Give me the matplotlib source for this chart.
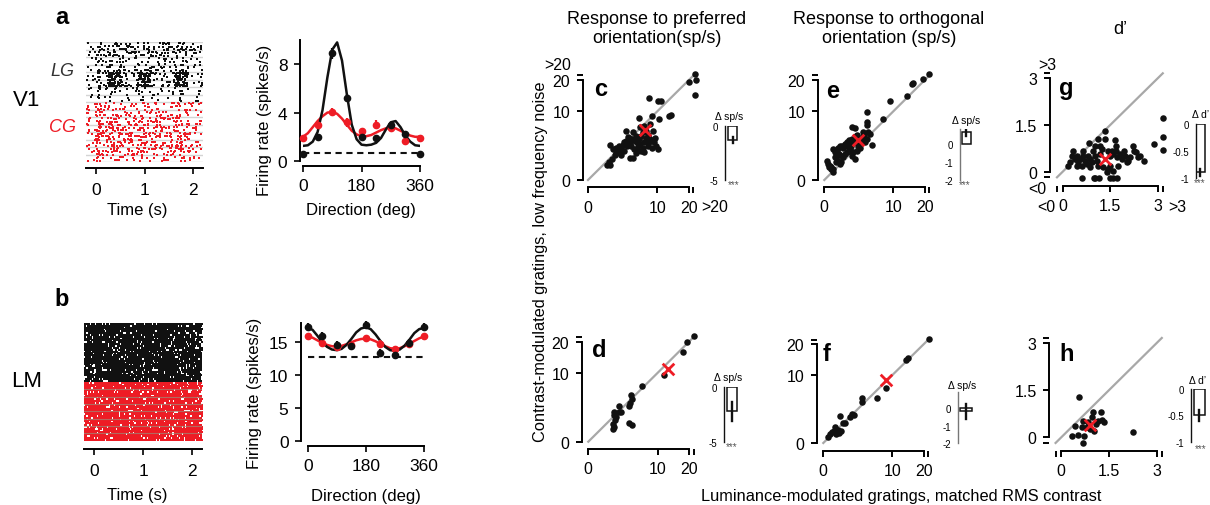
import numpy as np
import matplotlib
matplotlib.use("Agg")
import matplotlib.pyplot as plt

plt.rcParams["font.family"] = ["Liberation Sans", "DejaVu Sans"]
plt.rcParams["axes.linewidth"] = 1.4

W, H = 1210, 506
RED = "#ee1c25"
BLACK = "#111111"
GREY = "#a8a8a8"

# ---------------- tuning curves (a, b) ----------------
directions = [0, 45, 90, 135, 180, 225, 270, 315, 360]
v1_lg = [0.6, 2.0, 8.9, 5.2, 1.95, 1.9, 2.95, 2.2, 0.6]
v1_lg_err = [0.1, 0.15, 0.45, 0.3, 0.2, 0.15, 0.3, 0.2, 0.1]
v1_cg = [1.9, 2.95, 4.05, 3.2, 2.45, 3.0, 2.75, 1.65, 1.9]
v1_cg_err = [0.25, 0.3, 0.35, 0.35, 0.3, 0.35, 0.3, 0.3, 0.25]
v1_spont = 0.65

lm_lg = [17.3, 16.0, 14.6, 14.5, 17.6, 13.4, 13.1, 14.9, 17.3]
lm_lg_err = [0.6, 0.6, 0.6, 0.6, 0.6, 0.6, 0.6, 0.6, 0.6]
lm_cg = [15.9, 14.9, 14.3, 14.6, 15.6, 14.8, 14.0, 14.8, 15.9]
lm_cg_err = [0.5, 0.5, 0.5, 0.5, 0.5, 0.5, 0.5, 0.5, 0.5]
lm_spont = 12.8

fit_dirs = [0, 15, 30, 45, 60, 75, 90, 105, 120, 135, 150, 165, 180,
            195, 210, 225, 240, 255, 270, 285, 300, 315, 330, 345, 360]
v1_lg_fit = [1.25, 1.3, 1.6, 2.4, 4.2, 6.9, 9.2, 9.8, 8.3, 5.5, 3.0, 1.8, 1.35,
             1.3, 1.35, 1.5, 1.9, 2.6, 3.2, 3.3, 2.8, 2.1, 1.6, 1.3, 1.25]
v1_cg_fit = [2.0, 2.3, 2.8, 3.3, 3.7, 4.0, 4.05, 3.9, 3.5, 3.0, 2.5, 2.2, 2.05,
             2.05, 2.15, 2.35, 2.55, 2.7, 2.75, 2.7, 2.5, 2.3, 2.1, 2.0, 2.0]
lm_lg_fit = [17.2, 16.9, 16.0, 15.0, 14.3, 13.9, 13.8, 14.0, 14.6, 15.5, 16.5, 17.1, 17.3,
             17.0, 16.2, 15.2, 14.3, 13.8, 13.7, 13.9, 14.5, 15.4, 16.4, 17.0, 17.2]
lm_cg_fit = [15.9, 15.7, 15.3, 14.9, 14.6, 14.4, 14.35, 14.45, 14.7, 15.0, 15.3, 15.5, 15.55,
             15.45, 15.15, 14.75, 14.4, 14.1, 14.0, 14.1, 14.4, 14.8, 15.2, 15.6, 15.9]

# ---------------- rasters: spike density per trial (spikes/s) ----------------
v1_edges = [-0.2, 0.0, 0.1, 0.25, 0.55, 0.85, 1.15, 1.6, 1.9, 2.2]
v1_lg_rate = [
    [3, 8, 6, 8, 8, 7, 8, 8, 5],
    [3, 12, 6, 8, 8, 7, 8, 8, 5],
    [2, 8, 3, 4, 4, 3, 4, 4, 2],
    [2, 8, 4, 8, 5, 8, 5, 8, 3],
    [3, 10, 5, 34, 5, 30, 5, 32, 3],
    [3, 10, 5, 28, 5, 26, 5, 28, 3],
    [2, 8, 3, 4, 3, 4, 3, 4, 2],
    [2, 6, 2, 2, 2, 2, 2, 2, 2],
]
v1_cg_rate = [
    [4, 14, 5, 5, 5, 5, 5, 5, 4],
    [4, 14, 5, 6, 5, 6, 5, 6, 4],
    [4, 14, 6, 7, 6, 6, 6, 7, 4],
    [4, 16, 7, 9, 7, 8, 7, 8, 4],
    [4, 16, 8, 10, 8, 9, 8, 10, 4],
    [4, 16, 7, 9, 7, 8, 7, 9, 4],
    [4, 14, 6, 7, 6, 7, 6, 8, 4],
    [3, 10, 4, 5, 4, 4, 4, 5, 3],
]
lm_edges = [-0.2, 0.0, 1.0, 2.2]
lm_lg_rate = [[62, 64, 62]] * 8
lm_cg_rate = [[60, 62, 60]] * 8

# ---------------- scatter panels (c-h) ----------------
c_x = [0.95, 1.15, 1.05, 1.45, 1.7, 1.15, 1.9, 2.2, 1.85, 2.55, 2.8, 3.35, 3.6, 3.35, 3.9,
       4.2, 4.4, 4.8, 5.0, 5.25, 5.65, 5.8, 6.15, 3.9, 4.5, 5.0, 5.25, 6.15, 6.5, 6.85,
       7.25, 7.65, 7.9, 8.25, 8.75, 9.1, 9.75, 10.2, 9.3, 6.5, 5.8, 5.6, 8.65, 8.1, 8.9,
       10.6, 13.5, 14.0, 7.9, 10.2, 11.1, 20.1, 22.2, 22.7, 22.4, 2.05, 1.5, 2.55, 3.05,
       3.45, 4.6, 6.85, 7.25, 4.5, 6.85, 3.8, 2.95, 2.3, 5.45, 7.65]
c_y = [0.6, 0.58, 0.8, 1.15, 1.5, 2.9, 1.75, 2.05, 2.5, 2.4, 2.85, 3.55, 4.25, 5.3, 3.3,
       2.75, 3.85, 3.55, 4.3, 3.3, 3.85, 3.0, 4.45, 1.2, 1.2, 1.8, 2.05, 2.05, 2.5, 3.3,
       3.95, 2.75, 3.3, 3.85, 2.5, 3.3, 2.75, 2.3, 4.1, 5.1, 6.15, 8.25, 8.9, 6.85, 5.4,
       8.1, 8.9, 9.1, 14.0, 13.1, 12.9, 19.2, 22.5, 20.1, 14.7, 2.05, 2.3, 1.55, 2.05,
       2.75, 2.3, 1.9, 5.4, 5.1, 6.5, 4.1, 3.3, 2.75, 2.75, 4.6]
c_mean = (7.0, 5.6)

e_x = [21.6, 19.5, 15.9, 15.6, 13.9, 9.2, 7.3, 4.05, 4.2, 4.2, 1.9, 2.2, 2.55, 3.35, 3.55,
       4.3, 4.6, 5.0, 0.02, 0.04, 0.1, 0.15, 0.23, 0.12, 0.2, 0.08, 0.23, 0.32, 0.41, 0.52,
       0.64, 0.78, 0.92, 1.05, 1.25, 0.32, 0.45, 0.6, 0.78, 0.92, 1.05, 1.25, 1.45, 1.65,
       0.52, 0.7, 0.64, 0.37, 1.25, 1.45, 1.65, 1.9, 2.0, 2.25, 2.7, 2.95, 3.2, 3.45, 2.4,
       2.25, 1.9, 2.0, 2.55, 2.95, 1.75, 4.05, 3.75]
e_y = [22.3, 20.4, 19.1, 18.5, 14.6, 13.0, 8.1, 9.9, 7.35, 6.6, 6.3, 5.9, 4.5, 5.2, 4.5,
       5.2, 4.75, 2.8, 0.97, 0.7, 0.55, 0.45, 0.34, 0.31, 0.2, 0.45, 2.25, 1.85, 2.05, 2.5,
       2.75, 2.75, 2.5, 3.0, 2.75, 1.3, 1.46, 1.65, 1.46, 1.3, 1.65, 1.85, 2.05, 2.25,
       0.97, 0.81, 0.7, 0.81, 3.3, 3.6, 3.3, 3.85, 3.6, 3.3, 2.75, 3.3, 3.85, 4.4, 4.4,
       1.1, 1.46, 1.85, 2.05, 2.5, 2.75, 3.85, 3.3]
e_mean = (2.6, 3.7)

g_x = [3.18, 3.18, 3.18, 2.88, 2.58, 1.33, 1.34, 1.65, 1.68, 0.82, 0.34, 0.23, 0.18,
       0.6, 0.98, 1.02, 1.14, 1.49, 1.6, 1.7,
       0.44, 0.49, 0.56, 0.6, 0.65, 0.7, 0.76, 0.81, 0.86, 0.92, 0.97, 1.02, 1.07, 1.13,
       1.18, 1.23, 1.28, 1.39, 1.44, 1.49, 1.55, 1.6, 1.71, 1.76, 1.81, 1.86, 1.92, 1.97,
       2.02, 2.07, 2.13, 2.21, 2.25, 2.32, 2.39, 2.44,
       1.02, 1.1, 0.65, 0.39, 0.28, 1.49, 1.6, 0.86, 0.44, 1.18, 1.44, 1.68]
g_y = [1.71, 1.13, 0.71, 0.89, 0.33, 1.3, 1.05, 1.03, 0.84, 0.92, 0.65, 0.3, 0.19,
       -0.21, -0.21, -0.21, -0.21, -0.21, -0.21, -0.21,
       0.51, 0.3, 0.41, 0.19, 0.51, 0.35, 0.25, 0.51, 0.41, 0.3, 0.68, 0.51, 0.35, 0.19,
       0.57, 0.73, 0.14, -0.02, 0.09, 0.51, 0.68, 0.57, 0.46, 0.19, 0.57, 0.41, 0.68, 0.51,
       0.3, 0.35, 0.46, 0.84, 0.68, 0.62, 0.46, 0.51,
       0.84, 1.05, 0.68, 0.41, 0.51, 0.19, 0.03, 0.14, 0.19, 0.84, 0.68, 0.68]
g_mean = (1.32, 0.41)

d_x = [1.55, 1.6, 1.8, 1.7, 1.5, 1.55, 1.5, 2.2, 2.55, 2.2, 3.9, 4.2, 4.05, 3.75, 3.75,
       4.2, 6.15, 11.8, 17.8, 19.3, 21.8]
d_y = [2.15, 1.75, 1.55, 1.15, 0.85, 0.6, 0.45, 3.0, 2.1, 2.05, 3.5, 4.1, 4.8, 3.0, 0.9,
       0.75, 6.7, 9.5, 16.3, 20.0, 22.0]
d_mean = (12.9, 11.1)

f_x = [21.9, 14.5, 14.1, 8.4, 6.2, 3.5, 3.4, 2.2, 2.0, 1.7, 0.72, 0.95, 1.15, 0.13, 0.07,
       0.2, 0.33, 0.44, 0.63, 0.84, 0.55, 0.36]
f_y = [22.2, 15.1, 14.5, 6.8, 4.6, 4.6, 4.0, 2.0, 2.1, 1.7, 1.85, 1.05, 1.0, 0.24, 0.12,
       0.36, 0.4, 0.24, 0.3, 0.4, 0.5, 0.7]
f_mean = (8.4, 8.7)

h_x = [0.57, 2.24, 0.33, 0.43, 0.54, 0.64, 0.67, 0.69, 0.71, 0.8, 0.85, 0.96, 0.99, 1.03,
       1.09, 1.16, 1.24, 1.27, 1.35, 0.9]
h_y = [1.29, 0.17, 0.03, 0.35, 0.08, 0.32, 0.53, -0.19, 0.03, 0.32, 0.48, 0.64, 0.8, 0.21,
       0.42, 0.53, 0.8, 0.56, 0.5, 0.27]
h_mean = (0.9, 0.39)

# inset bars: mean difference and s.e.m.
delta = {"c": (-1.32, 0.27), "e": (0.67, 0.25), "g": (-0.89, 0.065),
         "d": (-2.2, 0.87), "f": (-0.17, 0.43), "h": (-0.5, 0.1)}

fig = plt.figure(figsize=(W / 100, H / 100), dpi=100)


def rect(left, top, right, bottom):
    return [left / W, 1 - bottom / H, (right - left) / W, (bottom - top) / H]


def ptext(x, y, s, **kw):
    kw.setdefault("ha", "center")
    kw.setdefault("va", "center")
    fig.text(x / W, 1 - y / H, s, **kw)


def px(p):
    return p * 0.72


def clean(ax):
    for s in ("top", "right"):
        ax.spines[s].set_visible(False)


# ---------------- raster helper ----------------
# spikes are spread over each (condition, time bin) cell with a quadratic Weyl sequence
Q1, L1 = 0.41421356237, 0.75487766625
Q2, L2 = 0.73205080757, 0.56984029100


def spikes(block, edges, rows, row0, seed):
    ts, rs = [], []
    for g, grp in enumerate(block):
        for b, rate in enumerate(grp):
            lo, hi = edges[b], edges[b + 1]
            n = int(round(rate * (hi - lo) * rows))
            k = (np.arange(n) + 1 + 157 * g + 29 * b + seed).astype(float)
            ts.append(lo + (hi - lo) * ((k * k * Q1 + k * L1) % 1))
            rs.append(row0 + g * rows + np.floor(rows * ((k * k * Q2 + k * L2) % 1)))
    return np.concatenate(ts), np.concatenate(rs)


def raster(box, edges, top_rate, bot_rate, rows, size, lm=False):
    ax = fig.add_axes(rect(*box))
    n_rows = 2 * len(top_rate) * rows
    ax.set_xlim(-0.2, 2.2)
    ax.set_ylim(n_rows, 0)
    if not lm:
        for r in range(0, n_rows + 1, rows):
            ax.axhline(r, color="#d4d4d4", lw=1.0, zorder=0)
    t, r = spikes(top_rate, edges, rows, 0, 3)
    ax.scatter(t, r + 0.5, s=size, marker="s", color=BLACK, lw=0, zorder=2)
    t, r = spikes(bot_rate, edges, rows, n_rows // 2, 1911)
    ax.scatter(t, r + 0.5, s=size, marker="s", color=RED, lw=0, zorder=2)
    if lm:
        for r in range(n_rows // 2 + rows, n_rows, rows):
            ax.axhline(r, color="#9a8a78", lw=0.8, alpha=0.7, zorder=3)
    for s in ("top", "right", "left"):
        ax.spines[s].set_visible(False)
    ax.spines["bottom"].set_position(("outward", px(6 if not lm else 8)))
    ax.set_yticks([])
    ax.set_xticks([0, 1, 2])
    ax.tick_params(axis="x", length=4, width=1.2, labelsize=12.5, pad=6)
    return ax


raster((86.3, 43, 202.7, 163), v1_edges, v1_lg_rate, v1_cg_rate, 5, 0.6)
raster((84.2, 324, 201.8, 441.7), lm_edges, lm_lg_rate, lm_cg_rate, 4, 2.4, lm=True)


# ---------------- tuning helper ----------------
def tuning(box, lg, lg_err, cg, cg_err, lg_fit, cg_fit, spont, ylim, yticks, left_out):
    ax = fig.add_axes(rect(*box))
    ax.set_xlim(0, 360)
    ax.set_ylim(ylim)
    ax.plot(fit_dirs, cg_fit, color=RED, lw=1.8, zorder=2)
    ax.plot(fit_dirs, lg_fit, color=BLACK, lw=1.8, zorder=3)
    ax.plot([0, 360], [spont, spont], color=BLACK, lw=1.5, ls=(0, (3, 2.2)), zorder=1)
    for y, e, c in ((cg, cg_err, RED), (lg, lg_err, BLACK)):
        cont = ax.errorbar(directions, y, yerr=e, fmt="o", color=c, ms=4.5,
                           elinewidth=1.6, capsize=0, zorder=4)
        for art in cont.get_children():
            art.set_clip_on(False)
    clean(ax)
    ax.spines["left"].set_position(("outward", px(left_out)))
    ax.spines["bottom"].set_position(("outward", px(5)))
    ax.spines["left"].set_bounds(0, ylim[1])
    ax.spines["bottom"].set_bounds(0, 360)
    ax.set_xticks([0, 180, 360])
    ax.set_yticks(yticks)
    ax.tick_params(length=4, width=1.2, labelsize=12.5, pad=5)
    return ax


tuning((303, 41, 420, 162), v1_lg, v1_lg_err, v1_cg, v1_cg_err, v1_lg_fit, v1_cg_fit,
       v1_spont, (0, 10), [0, 4, 8], 3)
tuning((307.7, 323.6, 424, 441.7), lm_lg, lm_lg_err, lm_cg, lm_cg_err, lm_lg_fit,
       lm_cg_fit, lm_spont, (0, 18), [0, 5, 10, 15], 6.7)


# ---------------- scatter helper ----------------
P = 0.54


def fwd(v):
    v = np.asarray(v, dtype=float)
    return np.sign(v) * np.abs(v) ** P


def inv(v):
    v = np.asarray(v, dtype=float)
    return np.sign(v) * np.abs(v) ** (1 / P)


def scatter(xref, yref, lims, power, x, y, mean, ticks, dashes, out, letter, letter_xy):
    f = fwd if power else (lambda v: v)
    (a0, p0), (a1, p1) = xref
    sx = (p1 - p0) / (f(a1) - f(a0))
    left = p0 + sx * (f(lims[0]) - f(a0))
    right = p0 + sx * (f(lims[1]) - f(a0))
    (b0, q0), (b1, q1) = yref
    sy = (q1 - q0) / (f(b1) - f(b0))
    bottom = q0 + sy * (f(lims[0]) - f(b0))
    top = q0 + sy * (f(lims[1]) - f(b0))
    ax = fig.add_axes(rect(left, top, right, bottom))
    if power:
        ax.set_xscale("function", functions=(fwd, inv))
        ax.set_yscale("function", functions=(fwd, inv))
    ax.set_xlim(lims)
    ax.set_ylim(lims)
    lo, hi = dashes
    ax.plot([lo, hi], [lo, hi], color=GREY, lw=1.6, zorder=1, clip_on=False)
    ax.scatter(x, y, s=22, color=BLACK, lw=0, zorder=2, clip_on=False)
    ax.scatter([mean[0]], [mean[1]], s=70, marker="x", color=RED, lw=2.0, zorder=3)
    clean(ax)
    ax.spines["left"].set_position(("outward", px(out[0])))
    ax.spines["bottom"].set_position(("outward", px(out[1])))
    ax.spines["left"].set_bounds(ticks[0], ticks[-1])
    ax.spines["bottom"].set_bounds(ticks[0], ticks[-1])
    extra = [v for v in (lo, hi) if v not in ticks]
    tk = sorted(list(ticks) + extra)
    lab = ["" if v in extra else ("%g" % v) for v in tk]
    ax.set_xticks(tk)
    ax.set_xticklabels(lab)
    ax.set_yticks(tk)
    ax.set_yticklabels(lab)
    ax.xaxis.set_minor_locator(matplotlib.ticker.NullLocator())
    ax.yaxis.set_minor_locator(matplotlib.ticker.NullLocator())
    ax.tick_params(length=4, width=1.4, labelsize=11.5, pad=5)
    ptext(letter_xy[0], letter_xy[1], letter, fontsize=17, fontweight="bold")
    return ax


scatter(((0, 588), (20, 688.7)), ((0, 181), (20, 81.2)), (0, 24), True, c_x, c_y,
        c_mean, [0, 10, 20], (0, 21.8), (5.3, 7.3), "c", (601, 90))
scatter(((0, 824.3), (20, 924.6)), ((0, 181), (20, 81.2)), (0, 24), True, e_x, e_y,
        e_mean, [0, 10, 20], (0, 21.8), (6.6, 7), "e", (833, 92))
scatter(((0, 1062.7), (3, 1157.7)), ((0, 172.7), (3, 79.3)), (-0.25, 3.25), False, g_x,
        g_y, g_mean, [0, 1.5, 3], (-0.18, 3.16), (4.8, 6.2), "g", (1066, 89))
scatter(((0, 588.3), (20, 689)), ((0, 442.7), (20, 342.7)), (0, 24), True, d_x, d_y,
        d_mean, [0, 10, 20], (0, 21.8), (6.6, 7.3), "d", (599, 351))
scatter(((0, 823.3), (20, 923.6)), ((0, 444), (20, 345.3)), (0, 24), True, f_x, f_y,
        f_mean, [0, 10, 20], (0, 21.8), (6.6, 7.7), "f", (827, 355))
scatter(((0, 1061.3), (3, 1156.7)), ((0, 438.3), (3, 344)), (-0.25, 3.25), False, h_x,
        h_y, h_mean, [0, 1.5, 3], (-0.18, 3.16), (4.1, 5.5), "h", (1067, 355))

# out-of-range labels
ptext(558, 66, ">20", fontsize=11.5)
ptext(715, 208, ">20", fontsize=11.5)
ptext(1037, 189, "<0", fontsize=11.5)
ptext(1047, 66, ">3", fontsize=11.5)
ptext(1046, 207, "<0", fontsize=11.5)
ptext(1177, 207, ">3", fontsize=11.5)


# ---------------- inset bars ----------------
def inset(box, ylim, ticks, key, label, label_xy, stars_xy, bar, spine_color):
    ax = fig.add_axes(rect(*box))
    ax.set_xlim(0, 1)
    ax.set_ylim(ylim)
    val, err = delta[key]
    ax.bar((bar[0] + bar[1]) / 2, val, width=bar[1] - bar[0], bottom=0,
           facecolor="white", edgecolor=BLACK, lw=1.1, zorder=2)
    cx = (bar[0] + bar[1]) / 2
    ax.plot([cx, cx], [val - err, val + err], color=BLACK, lw=1.7, zorder=3)
    for s in ("top", "right", "bottom"):
        ax.spines[s].set_visible(False)
    ax.spines["left"].set_color(spine_color)
    ax.spines["left"].set_linewidth(1.0)
    ax.set_xticks([])
    ax.set_yticks(ticks)
    ax.set_yticklabels(["%g" % t for t in ticks])
    ax.tick_params(axis="y", length=0, labelsize=7, pad=5)
    ptext(label_xy[0], label_xy[1], label, fontsize=7.5)
    if stars_xy:
        ptext(stars_xy[0], stars_xy[1], "***", fontsize=7, color="#555555")


inset((725, 126.7, 741, 181), (-5, 0), [0, -5], "c", "Δ sp/s", (729, 116.5), (734, 185),
      (0.2, 0.75), BLACK)
inset((960, 129.7, 976, 181), (-2, 0.85), [0, -1, -2], "e", "Δ sp/s", (966, 121.5),
      (965, 185), (0.1, 0.67), "#777777")
inset((1196, 125, 1206, 179.3), (-1, 0), [0, -0.5, -1], "g", "Δ d’", (1201, 115),
      (1200, 183), (0.0, 0.85), BLACK)
inset((724, 388.3, 740, 442.7), (-5, 0), [0, -5], "d", "Δ sp/s", (728, 378.5),
      (732, 447), (0.17, 0.8), BLACK)
inset((957.7, 393.4, 973.7, 444), (-2, 0.92), [0, -1, -2], "f", "Δ sp/s", (962, 386),
      None, (0.15, 0.88), "#777777")
inset((1190.7, 390, 1206, 442.7), (-1, 0), [0, -0.5, -1], "h", "Δ d’", (1198, 381),
      (1201, 449.5), (0.22, 0.93), BLACK)

# ---------------- texts ----------------
ptext(62, 17, "a", fontsize=17, fontweight="bold")
ptext(62, 300, "b", fontsize=17, fontweight="bold")
ptext(27, 100, "V1", fontsize=16)
ptext(27, 382, "LM", fontsize=16)
ptext(62, 72, "LG", fontsize=13, style="italic", color="#333333")
ptext(63, 128, "CG", fontsize=13, style="italic", color=RED)
ptext(137, 210, "Time (s)", fontsize=12)
ptext(137, 496, "Time (s)", fontsize=12)
ptext(361, 210, "Direction (deg)", fontsize=12)
ptext(366, 497, "Direction (deg)", fontsize=12)
ptext(265, 120, "Firing rate (spikes/s)", fontsize=12, rotation=90)
ptext(255, 393, "Firing rate (spikes/s)", fontsize=12, rotation=90)

ptext(657, 29, "Response to preferred\norientation(sp/s)", fontsize=13,
      linespacing=1.1)
ptext(889, 29, "Response to orthogonal\norientation (sp/s)", fontsize=13,
      linespacing=1.1)
ptext(1120, 30, "d’", fontsize=13)
ptext(540, 262, "Contrast-modulated gratings, low frequency noise", fontsize=11.8,
      rotation=90)
ptext(901, 497, "Luminance-modulated gratings, matched RMS contrast", fontsize=11.8)

fig.savefig("out.png", dpi=100)
